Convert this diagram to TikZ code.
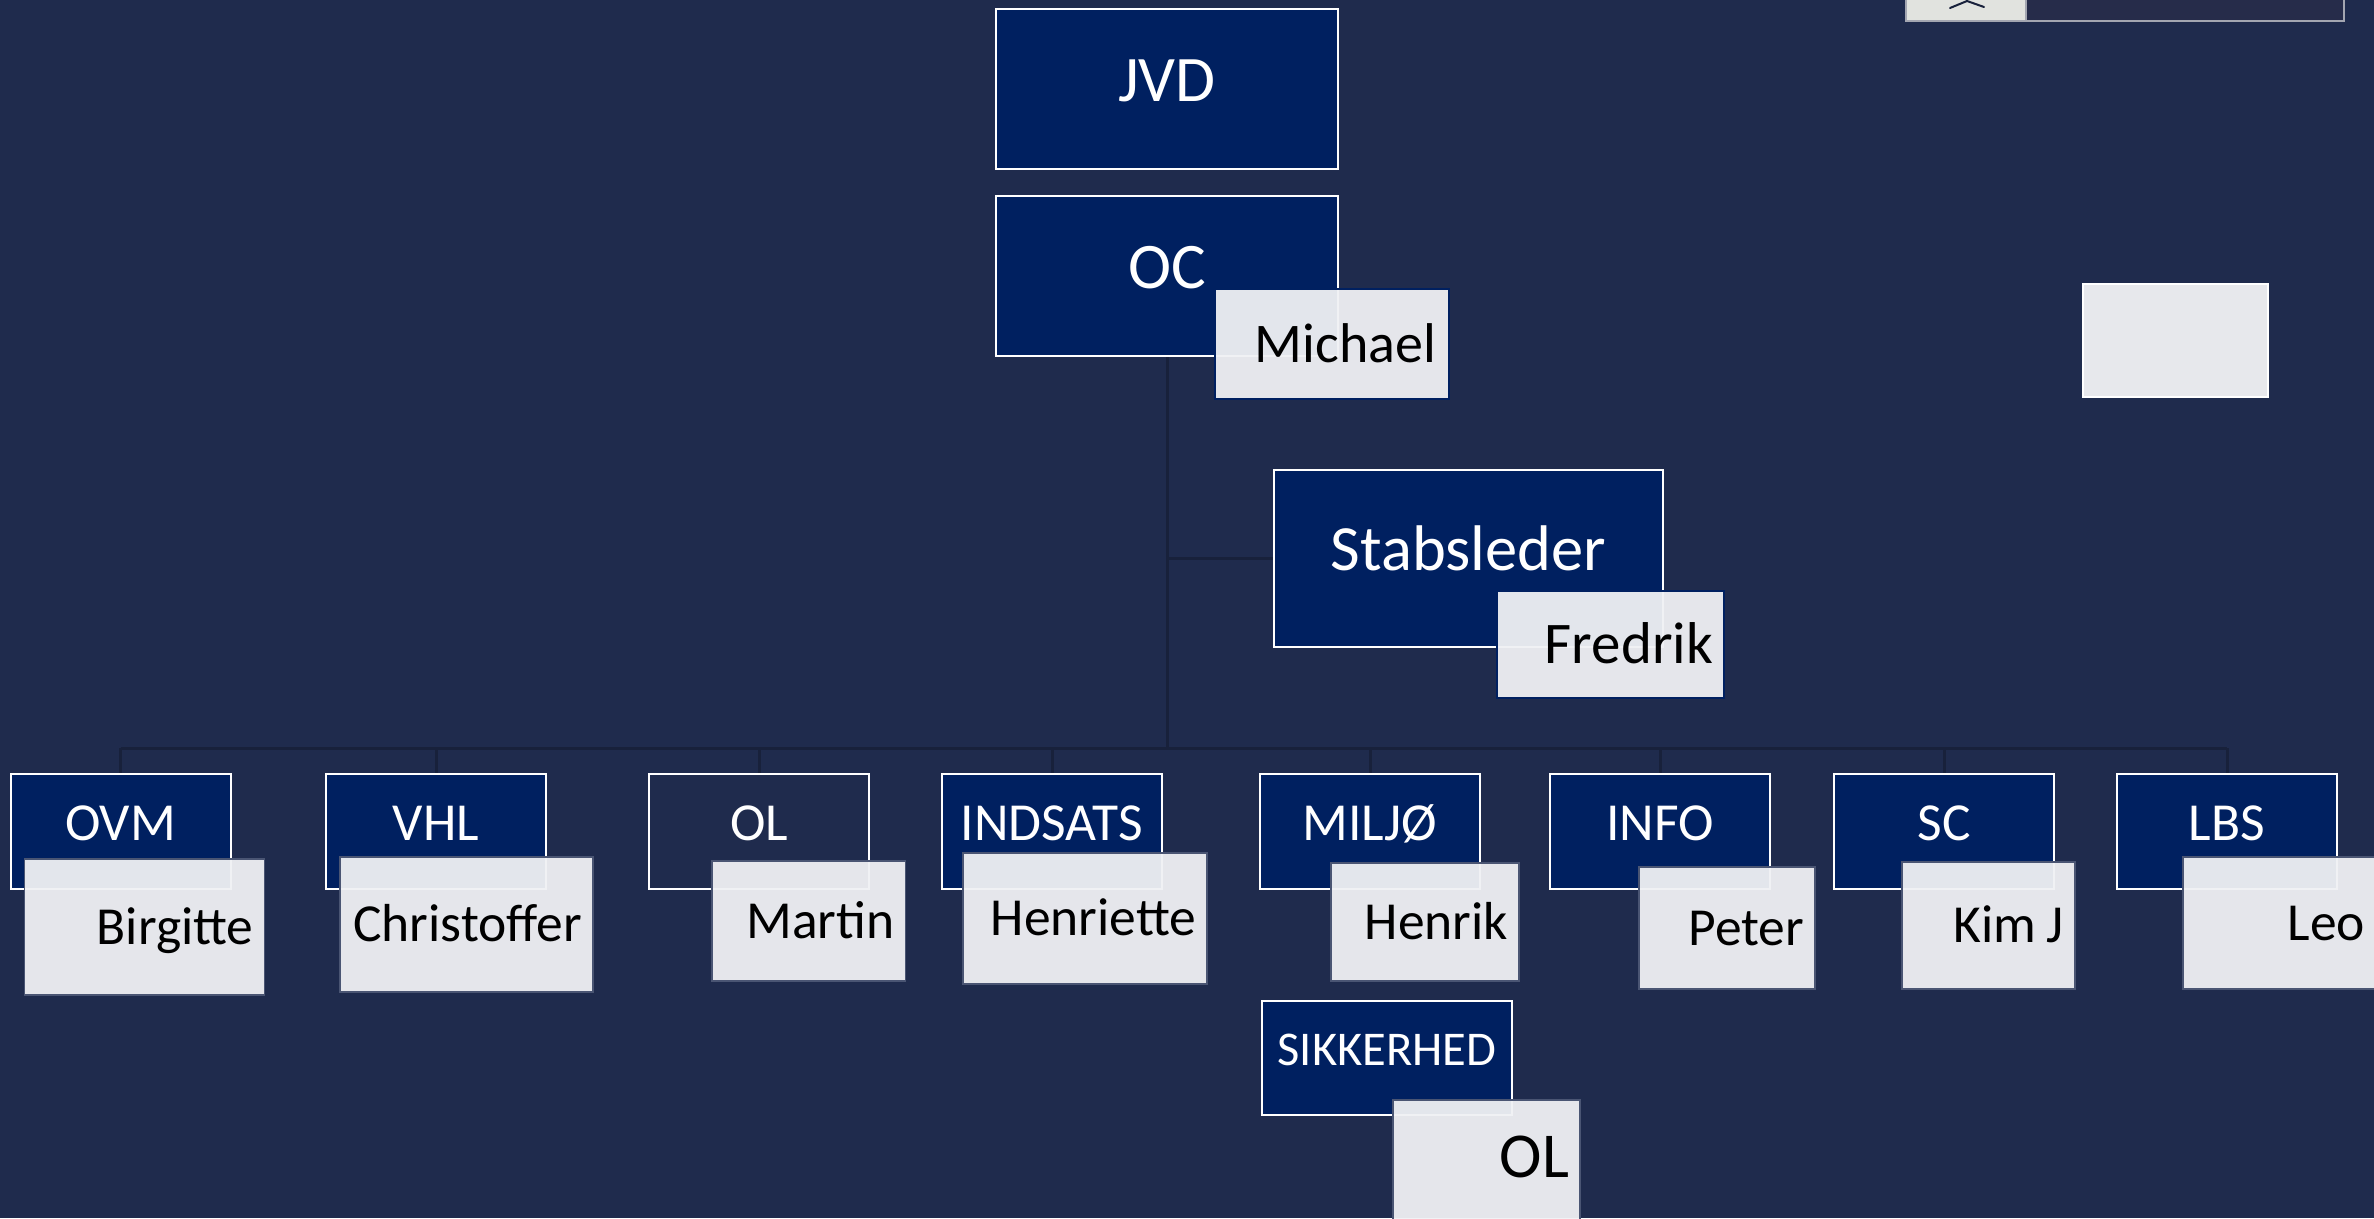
\documentclass[tikz,border=0pt]{standalone}
\usepackage{fontspec}
\setmainfont{Carlito}
\usetikzlibrary{backgrounds}

\definecolor{bgnavy}{HTML}{1F2B4D}
\definecolor{unitblue}{HTML}{002060}
\definecolor{namegrey}{HTML}{F0F1F4}
\definecolor{vacantgrey}{HTML}{E7E8EC}
\definecolor{nameline}{HTML}{4A5573}
\definecolor{linkline}{HTML}{18213B}
\definecolor{widgetgrey}{HTML}{E1E3DF}
\definecolor{widgetdark}{HTML}{262C4A}
\definecolor{widgetline}{HTML}{A3A6B1}

\begin{document}
\begin{tikzpicture}[x=1pt,y=-1pt,
	ubox/.style={rectangle,draw=white,line width=2pt,fill=unitblue,text=white,inner sep=0pt,
		minimum width=220pt,minimum height=115pt,font=\fontsize{53.5}{62}\selectfont,text height=34.5pt,text depth=17pt},
	pbox/.style={rectangle,draw=nameline,line width=1.5pt,fill=namegrey,fill opacity=0.95,text opacity=1,
		text=black,inner xsep=11pt,inner ysep=0pt,align=right,font=\fontsize{53.5}{62}\selectfont,text height=34.5pt,text depth=0pt},
	link/.style={draw=linkline,line width=3pt}]
	\useasboundingbox (0,0) rectangle (2374,1218);
	\clip (0,0) rectangle (2374,1218);
	% top
	\node[ubox,minimum width=342pt,minimum height=160pt,font=\fontsize{65}{74}\selectfont,text height=42pt] (jvd) at (1167,89) {JVD};
	\node[ubox,minimum width=342pt,minimum height=160pt,font=\fontsize{65}{74}\selectfont,text height=42pt] (oc) at (1167,276) {OC};
	\node[ubox,minimum width=389pt,minimum height=177pt,font=\fontsize{64.5}{74}\selectfont,text height=41.5pt] (stab) at (1468.5,558.5) {Stabsleder};
	\coordinate (hub) at (1167,748);
	% departments
	\node[ubox] (ovm) at (120.5,831.5) {OVM};
	\node[ubox] (vhl) at (436,831.5) {VHL};
	\node[ubox,fill=none] (ol) at (759,831.5) {OL};
	\node[ubox] (indsats) at (1052,831.5) {INDSATS};
	\node[ubox] (miljo) at (1370,831.5) {MILJØ};
	\node[ubox] (info) at (1660,831.5) {INFO};
	\node[ubox] (sc) at (1944,831.5) {SC};
	\node[ubox] (lbs) at (2227,831.5) {LBS};
	\node[ubox,minimum width=250pt,minimum height=114pt,font=\fontsize{48.5}{56}\selectfont,text height=31pt,text depth=16pt] (sikkerhed) at (1387,1058) {SIKKERHED};
	% names
	\node[pbox,draw=unitblue,line width=2.5pt,text width=208pt,minimum height=110pt,inner xsep=13pt,font=\fontsize{56}{64}\selectfont,text height=36pt] (michael) at (1332,344) {Michael};
	\node[pbox,draw=unitblue,line width=2.5pt,text width=205pt,minimum height=107pt,font=\fontsize{59}{67}\selectfont,text height=38pt] (fredrik) at (1610.5,644.5) {Fredrik};
	\node[pbox,text width=218pt,minimum height=136pt] (birgitte) at (144.5,927) {Birgitte};
	\node[pbox,text width=231pt,minimum height=135pt] (christoffer) at (466.5,924.5) {Christoffer};
	\node[pbox,text width=171.5pt,minimum height=120pt] (martin) at (808.75,921) {Martin};
	\node[pbox,text width=222pt,minimum height=131pt] (henriette) at (1085,918.5) {Henriette};
	\node[pbox,text width=166pt,minimum height=118pt] (henrik) at (1425,922) {Henrik};
	\node[pbox,text width=154pt,minimum height=122pt] (peter) at (1727,928) {Peter};
	\node[pbox,text width=151pt,minimum height=127pt] (kimj) at (1988.5,925.5) {Kim\hspace{0.2em}J};
	\node[pbox,text width=171pt,minimum height=132pt] (leo) at (2279.5,923) {Leo};
	\node[pbox,text width=165pt,minimum height=136pt,font=\fontsize{64}{72}\selectfont,text height=41pt,text depth=22pt] (olname) at (1486.5,1168) {OL};
	% empty box
	\node[rectangle,draw=white,line width=2.5pt,fill=vacantgrey,minimum width=185pt,minimum height=113pt] (vacant) at (2175.5,340.5) {};
	% collapse widget
	\draw[widgetline,line width=1.2pt,fill=widgetgrey] (1906,-3) rectangle (2026,21);
	\draw[widgetline,line width=1.2pt,fill=widgetdark] (2026,-3) rectangle (2344,21);
	\draw[linkline,line width=2pt,line cap=round] (1950,8) -- (1967,1) -- (1984,7);
	% connectors
	\begin{scope}[on background layer]
		\fill[bgnavy] (0,0) rectangle (2374,1218);
		\draw[link] (oc.south) -- (hub);
		\draw[link] (stab.west) -- (stab.west -| hub);
		\draw[link] (ovm.north |- hub) -- (lbs.north |- hub);
		\foreach \dept in {ovm,vhl,ol,indsats,miljo,info,sc,lbs}
			\draw[link] (\dept.north) -- (\dept.north |- hub);
	\end{scope}
\end{tikzpicture}
\end{document}
